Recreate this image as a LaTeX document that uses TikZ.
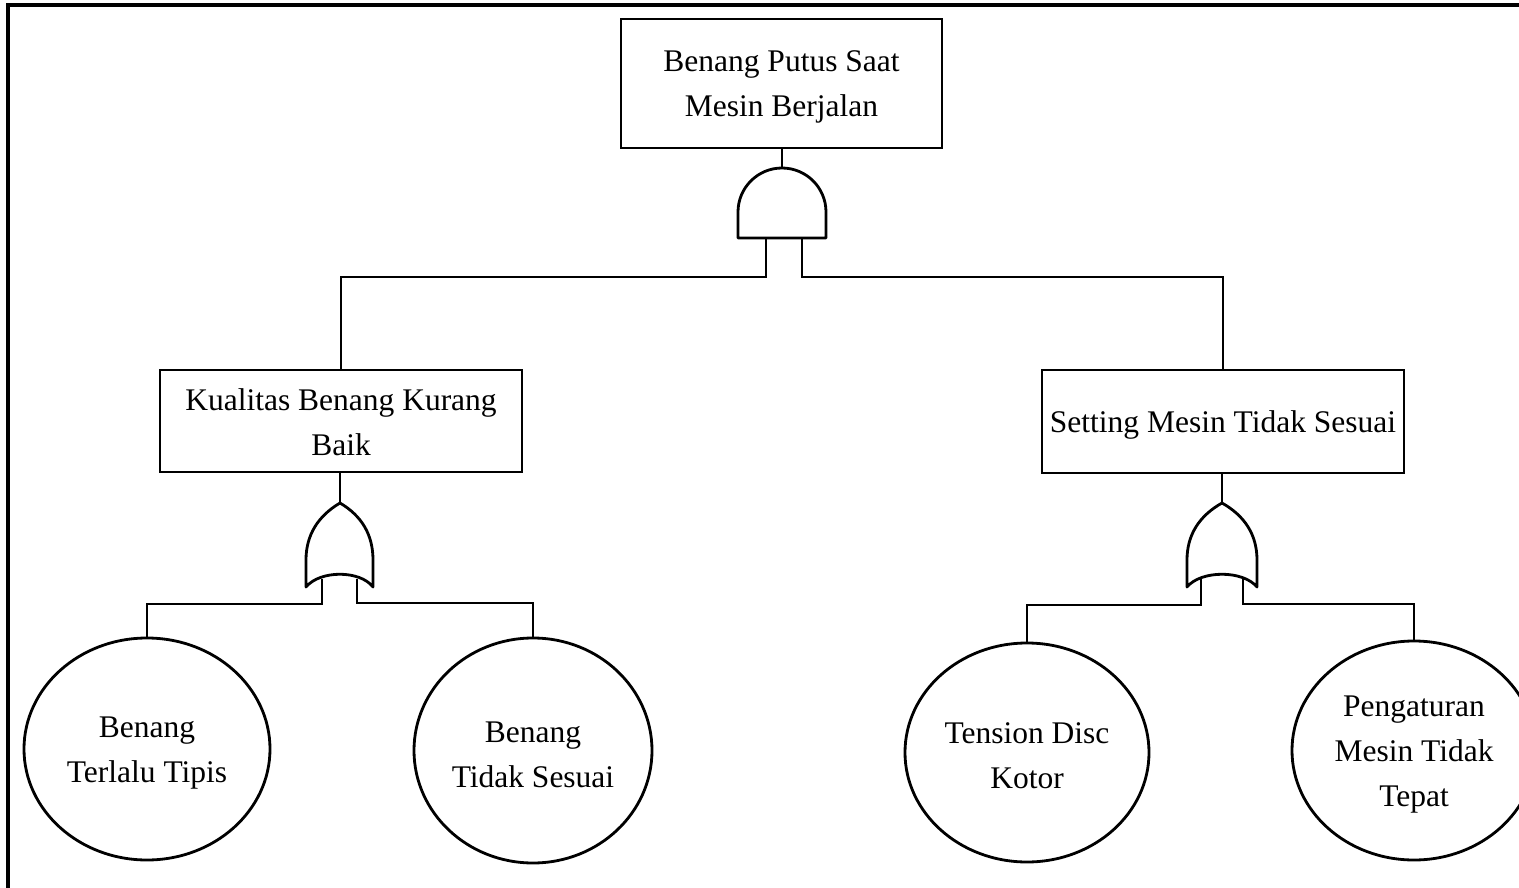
\documentclass[tikz,border=0pt]{standalone}
\usepackage{fontspec}
\setmainfont{Liberation Serif}
\usetikzlibrary{shapes.geometric}

\tikzset{
  wire/.style={line width=2.8pt, line cap=rect},
  event/.style={draw, line width=2.8pt, rectangle, inner sep=0pt},
  basic/.style={draw, line width=2.8pt, ellipse, inner sep=0pt},
  txt/.style={inner sep=0pt, align=center, font=\fontsize{31.5}{45}\selectfont},
  gatebody/.style={draw, line width=2.8pt, fill=white, line join=round},
}

\begin{document}
\begin{tikzpicture}[x=1pt, y=-1pt]
\useasboundingbox (0,0) rectangle (1519,888);
\begin{scope}
\clip (0,0) rectangle (1519,888);
\draw[line width=3.2pt] (8,5) rectangle (1600,950);

% events
\node[event, minimum width=321pt, minimum height=129pt] (top) at (781.5,83.5) {};
\node[txt] (toptxt) at ([yshift=-3pt]top.center) {Benang Putus Saat\\Mesin Berjalan};
\node[event, minimum width=362pt, minimum height=102pt] (kual) at (341,421) {};
\node[txt] (kualtxt) at ([yshift=-1pt]kual.center) {Kualitas Benang Kurang\\Baik};
\node[event, minimum width=362pt, minimum height=103pt] (set) at (1223,421.5) {};
\node[txt] (settxt) at ([yshift=-3pt]set.center) {Setting Mesin Tidak Sesuai};

% basic events
\node[basic, minimum width=246pt, minimum height=222pt] (b1) at (147,749) {};
\node[txt] (b1txt) at ([yshift=-4pt]b1.center) {Benang\\Terlalu Tipis};
\node[basic, minimum width=238pt, minimum height=225pt] (b2) at (533,750.5) {};
\node[txt] (b2txt) at ([yshift=-4pt]b2.center) {Benang\\Tidak Sesuai};
\node[basic, minimum width=244pt, minimum height=219pt] (b3) at (1027,752.5) {};
\node[txt] (b3txt) at ([yshift=-3pt]b3.center) {Tension Disc\\Kotor};
\node[basic, minimum width=244pt, minimum height=219pt] (b4) at (1414,750.5) {};
\node[txt] (b4txt) at ([yshift=-4pt]b4.center) {Pengaturan\\Mesin Tidak\\Tepat};

% AND gate under the top event
\coordinate (andtop) at (782,168);
\coordinate (andL) at (766,238);
\coordinate (andR) at (802,238);
\draw[wire] (top.south -| andtop) -- (andtop);
\draw[wire] (andL) -- (766,277) -| (kual.north);
\draw[wire] (andR) -- (802,277) -| (set.north);
\draw[gatebody] (738,238) -- (738,212) arc[start angle=180, end angle=0, x radius=44pt, y radius=44pt]
  -- (826,238) -- cycle;

% OR gate under the left intermediate event
\coordinate (or1top) at (340,503);
\draw[wire] (kual.south -| or1top) -- (or1top);
\draw[wire] (322,580) -- (322,604) -| (b1.north);
\draw[wire] (357,580) -- (357,603) -| (b2.north);
\draw[gatebody] (340,503) .. controls (362,516) and (373,535) .. (373,560) -- (373,587)
  .. controls (360,570) and (320,570) .. (306,587) -- (306,560)
  .. controls (306,535) and (318,516) .. (340,503) -- cycle;

% OR gate under the right intermediate event
\coordinate (or2top) at (1222,503);
\draw[wire] (set.south -| or2top) -- (or2top);
\draw[wire] (1201,580) -- (1201,605) -| (b3.north);
\draw[wire] (1243,580) -- (1243,604) -| (b4.north);
\draw[gatebody] (1222,503) .. controls (1245,516) and (1257,535) .. (1257,560) -- (1257,587)
  .. controls (1243,570) and (1201,570) .. (1187,587) -- (1187,560)
  .. controls (1187,535) and (1199,516) .. (1222,503) -- cycle;
\end{scope}
\end{tikzpicture}
\end{document}
